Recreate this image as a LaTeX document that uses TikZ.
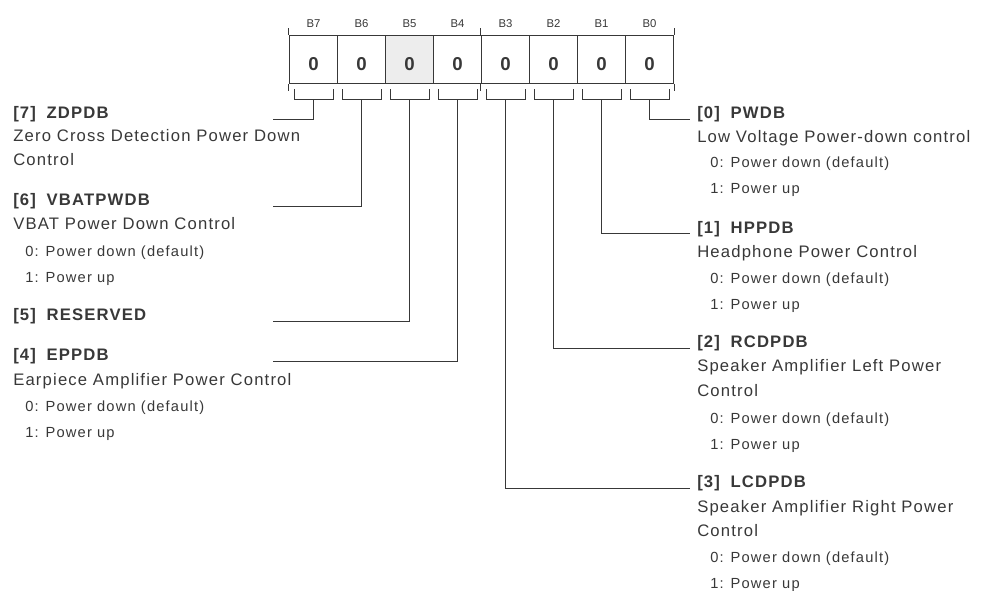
\documentclass[tikz,border=0pt]{standalone}
\usepackage{fontspec}
\setmainfont{Liberation Sans}
\newfontfamily\regfont[LetterSpace=7]{Liberation Sans}
\newfontfamily\optfont[LetterSpace=8]{Liberation Sans}
\definecolor{ink}{HTML}{383838}
\definecolor{resgray}{HTML}{EDEDED}

\begin{document}
\begin{tikzpicture}[
  x=0.75pt, y=-0.75pt,
  cell/.style={draw=ink, line width=0.8pt, minimum size=36pt, inner sep=0pt, text height=16.5pt, text depth=0pt, font=\fontsize{14}{16}\selectfont\bfseries, text=ink},
  bitlbl/.style={anchor=base, inner sep=0pt, font=\fontsize{8.5}{9}\selectfont, text=ink},
  title/.style={anchor=base west, inner sep=0pt, font=\regfont\fontsize{12.5}{14}\selectfont\bfseries, text=ink},
  desc/.style={anchor=base west, inner sep=0pt, font=\regfont\fontsize{12.5}{14}\selectfont, text=ink},
  opt/.style={anchor=base west, inner sep=0pt, font=\optfont\fontsize{11}{12}\selectfont, text=ink},
  wire/.style={draw=ink, line width=0.75pt}
]
\useasboundingbox (0,0) rectangle (981,591);

\foreach \b/\f [count=\i from 0, evaluate=\i as \x using 313.5+48*\i] in {7/white,6/white,5/resgray,4/white,3/white,2/white,1/white,0/white} {
  \node[cell, fill=\f] (c\b) at (\x,59.5) {0};
  \node[bitlbl] (l\b) at (\x,27.3) {B\b};
  \draw[wire] (\x-19.5,89.5) |- (\x+19.5,99.3) -- (\x+19.5,89.5);
  \coordinate (k\b) at (\x,99.3);
}
\foreach \n in {c7.north west, c3.north west, c0.north east}
  \draw[wire] (\n) -- ++(0,-6.5);
\foreach \n in {c7.south west, c3.south west, c0.south east}
  \draw[wire] (\n) -- ++(0,7);

\node[title] (t7) at (13,118.5) {[7]\hspace{8pt}ZDPDB};
\node[desc] (d7a) at (13,142) {Zero Cross Detection Power Down};
\node[desc] (d7b) at (13,166) {Control};
\node[title] (t6) at (13,206) {[6]\hspace{8pt}VBATPWDB};
\node[desc] (d6) at (13,230) {VBAT Power Down Control};
\node[opt] (o6a) at (25,256.5) {0: Power down (default)};
\node[opt] (o6b) at (25,282.5) {1: Power up};
\node[title] (t5) at (13,321) {[5]\hspace{8pt}RESERVED};
\node[title] (t4) at (13,361) {[4]\hspace{8pt}EPPDB};
\node[desc] (d4) at (13,385.5) {Earpiece Amplifier Power Control};
\node[opt] (o4a) at (25,411.5) {0: Power down (default)};
\node[opt] (o4b) at (25,437) {1: Power up};

\node[title] (t0) at (697,118.5) {[0]\hspace{8pt}PWDB};
\node[desc] (d0) at (697,142.7) {Low Voltage Power-down control};
\node[opt] (o0a) at (710,168) {0: Power down (default)};
\node[opt] (o0b) at (710,194) {1: Power up};
\node[title] (t1) at (697,233.5) {[1]\hspace{8pt}HPPDB};
\node[desc] (d1) at (697,258) {Headphone Power Control};
\node[opt] (o1a) at (710,284) {0: Power down (default)};
\node[opt] (o1b) at (710,310) {1: Power up};
\node[title] (t2) at (697,347.8) {[2]\hspace{8pt}RCDPDB};
\node[desc] (d2a) at (697,372) {Speaker Amplifier Left Power};
\node[desc] (d2b) at (697,396) {Control};
\node[opt] (o2a) at (710,423) {0: Power down (default)};
\node[opt] (o2b) at (710,449) {1: Power up};
\node[title] (t3) at (697,487.8) {[3]\hspace{8pt}LCDPDB};
\node[desc] (d3a) at (697,512) {Speaker Amplifier Right Power};
\node[desc] (d3b) at (697,536) {Control};
\node[opt] (o3a) at (710,562) {0: Power down (default)};
\node[opt] (o3b) at (710,588) {1: Power up};

\coordinate (e7) at (273,119.3);
\coordinate (e6) at (273,206.7);
\coordinate (e5) at (273,321.7);
\coordinate (e4) at (273,361.7);
\coordinate (e0) at (690,119.3);
\coordinate (e1) at (690,234);
\coordinate (e2) at (690,348.3);
\coordinate (e3) at (690,488.3);

\draw[wire] (k7) |- (e7);
\draw[wire] (k6) |- (e6);
\draw[wire] (k5) |- (e5);
\draw[wire] (k4) |- (e4);
\draw[wire] (k0) |- (e0);
\draw[wire] (k1) |- (e1);
\draw[wire] (k2) |- (e2);
\draw[wire] (k3) |- (e3);
\end{tikzpicture}
\end{document}
